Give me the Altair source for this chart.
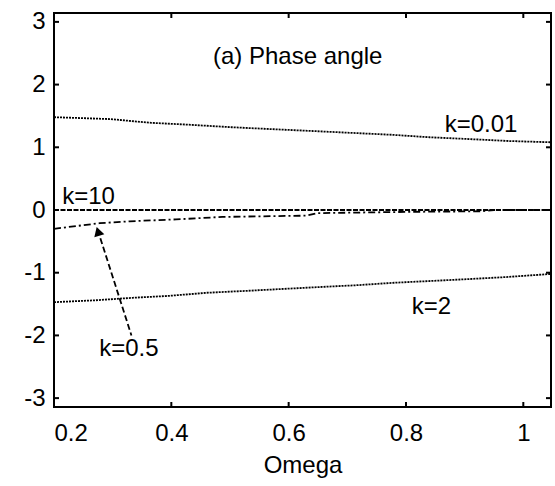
import altair as alt
import pandas as pd

# ---- data ----
omega_k001 = [0.2, 0.295, 0.366, 0.43, 0.503, 0.57, 0.64, 0.707, 0.775, 0.84, 0.91, 0.976, 1.047]
phase_k001 = [1.48, 1.45, 1.39, 1.36, 1.32, 1.29, 1.26, 1.23, 1.20, 1.16, 1.13, 1.10, 1.08]

omega_k2 = [0.2, 0.27, 0.334, 0.395, 0.46, 0.527, 0.588, 0.65, 0.715, 0.78, 0.846, 0.91, 0.97, 1.047]
phase_k2 = [-1.47, -1.44, -1.40, -1.37, -1.32, -1.29, -1.26, -1.23, -1.20, -1.16, -1.13, -1.10, -1.07, -1.02]

omega_k05 = [0.2, 0.278, 0.329, 0.408, 0.487, 0.63, 0.65, 0.80, 0.93, 0.95, 1.047]
phase_k05 = [-0.30, -0.21, -0.18, -0.15, -0.11, -0.09, -0.05, -0.03, -0.02, 0.0, 0.0]

omega_k10 = [0.2, 1.047]
phase_k10 = [0.0, 0.0]

arrow_x = [0.332, 0.279]
arrow_y = [-2.0, -0.45]
head_x = [0.275]
head_y = [-0.34]

label_text = ["k=0.01", "k=10", "k=2", "k=0.5", "(a) Phase angle"]
label_x = [0.866, 0.214, 0.81, 0.277, 0.471]
label_y = [1.36, 0.21, -1.55, -2.22, 2.44]

x_ticks = [0.2, 0.4, 0.6, 0.8, 1.0]
y_ticks = [-3, -2, -1, 0, 1, 2, 3]

W, H = 497, 394
FONT = "Liberation Sans"
FS = 24

xs = alt.Scale(domain=[0.2, 1.0472], nice=False, zero=False)
ys = alt.Scale(domain=[-3.1416, 3.1416], nice=False, zero=False)

X_AX = alt.Axis(values=x_ticks, labelExpr="'' + datum.value", ticks=False, domain=False,
                grid=False, labelFont=FONT, labelFontSize=FS, labelColor="black",
                labelPadding=14, titleFont=FONT, titleFontSize=FS, titleFontWeight="normal",
                titleColor="black", titlePadding=8)
Y_AX = alt.Axis(values=y_ticks, labelExpr="'' + datum.value", ticks=False, domain=False,
                grid=False, labelFont=FONT, labelFontSize=FS, labelColor="black",
                labelPadding=9)


def X(f):
    return alt.X(f, scale=xs, axis=X_AX, title="Omega")


def Y(f):
    return alt.Y(f, scale=ys, axis=Y_AX, title=None)


def line(xv, yv, dash, width=1.5):
    df = pd.DataFrame({"x": xv, "y": yv})
    return alt.Chart(df).mark_line(color="black", strokeWidth=width, strokeDash=dash).encode(
        x=X("x:Q"), y=Y("y:Q"))


xt = pd.DataFrame({"v": x_ticks})
yt = pd.DataFrame({"v": y_ticks})
tick_b = alt.Chart(xt).mark_rule(color="black", strokeWidth=2).encode(
    x=X("v:Q"), y=alt.value(H), y2=alt.value(H - 5))
tick_t = alt.Chart(xt).mark_rule(color="black", strokeWidth=2).encode(
    x=X("v:Q"), y=alt.value(0), y2=alt.value(5))
tick_l = alt.Chart(yt).mark_rule(color="black", strokeWidth=2).encode(
    y=Y("v:Q"), x=alt.value(0), x2=alt.value(5))
tick_r = alt.Chart(yt).mark_rule(color="black", strokeWidth=2).encode(
    y=Y("v:Q"), x=alt.value(W), x2=alt.value(W - 5))

l001 = line(omega_k001, phase_k001, [2, 1], 1.8)
l2 = line(omega_k2, phase_k2, [2, 1], 1.8)
l10 = line(omega_k10, phase_k10, [5, 1.5], 2)
l05 = line(omega_k05, phase_k05, [7, 3, 2, 3], 1.8)
arrow = line(arrow_x, arrow_y, [6, 3], 1.8)

head = alt.Chart(pd.DataFrame({"x": head_x, "y": head_y})).mark_point(
    shape="triangle-up", filled=True, color="black", size=110, angle=343, opacity=1
).encode(x=X("x:Q"), y=Y("y:Q"))

labels = alt.Chart(pd.DataFrame({"t": label_text, "x": label_x, "y": label_y})).mark_text(
    align="left", baseline="middle", font=FONT, fontSize=FS, color="black"
).encode(x=X("x:Q"), y=Y("y:Q"), text="t:N")

chart = alt.layer(l001, l2, l05, l10, arrow, head, labels,
                  tick_b, tick_t, tick_l, tick_r).properties(
    width=W, height=H,
    autosize="none",
    padding={"left": 54, "top": 13, "right": 4, "bottom": 79},
    background="white",
).configure_view(stroke="black", strokeWidth=2)

chart.save("out.html", embed_options={"renderer": "svg", "actions": False})
